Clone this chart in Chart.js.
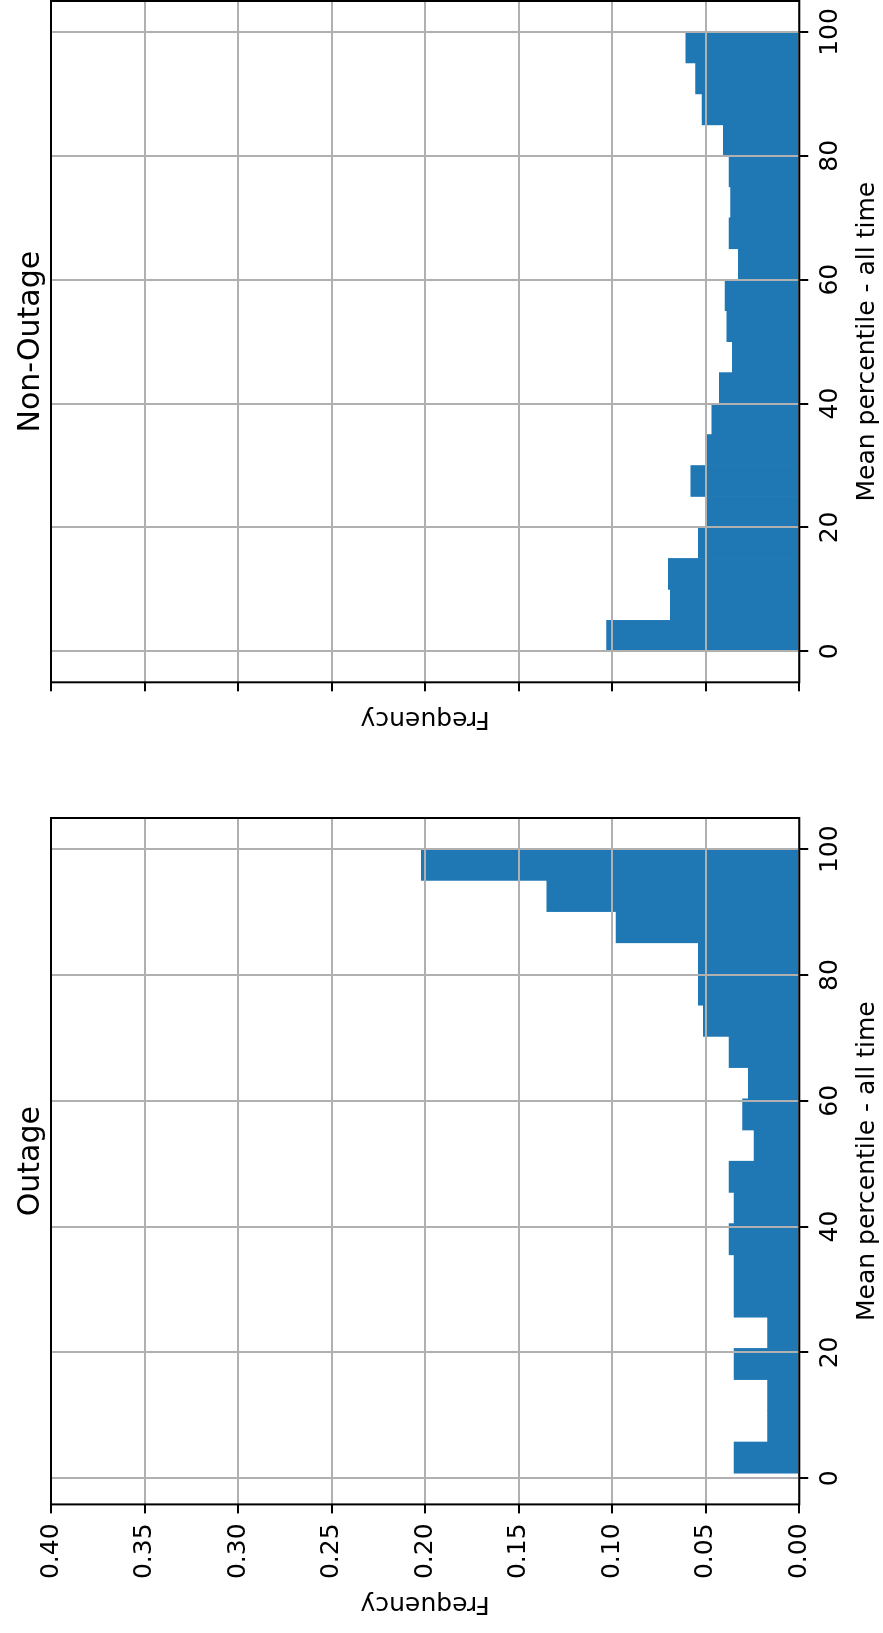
<!DOCTYPE html>
<html>
<head>
<meta charset="utf-8">
<script src="https://cdn.jsdelivr.net/npm/chart.js@4.4.1/dist/chart.umd.min.js"></script>
<style>
  html, body { margin: 0; padding: 0; background: #fff; overflow: hidden; }
  /* figure is laid out landscape, then turned a quarter turn counter-clockwise */
  #figure {
    position: absolute; left: 0; top: 0;
    width: 1633px; height: 883px;
    transform-origin: 0 0;
    transform: translateY(1633px) rotate(-90deg);
    background: #fff;
  }
  #figure canvas { position: absolute; top: 0; }
</style>
</head>
<body>
<div id="figure">
  <canvas id="outage" width="870" height="883" style="left:0"></canvas>
  <canvas id="nonOutage" width="763" height="883" style="left:870px"></canvas>
</div>
<script>
// histogram bin centres (mean percentile) and relative frequencies
const outageBins = [3.28, 8.24, 13.2, 18.16, 23.12, 28.08, 33.04, 38.0, 42.96, 47.92,
                    52.88, 57.84, 62.8, 67.76, 72.72, 77.68, 82.64, 87.6, 92.56, 97.52];
const outageFreq = [0.0348, 0.0169, 0.0169, 0.0348, 0.0169, 0.0348, 0.0348, 0.0376, 0.0349, 0.0376,
                    0.0242, 0.0303, 0.0273, 0.0376, 0.0513, 0.054, 0.054, 0.098, 0.135, 0.202];

const nonOutageBins = [2.5, 7.5, 12.5, 17.5, 22.5, 27.5, 32.5, 37.5, 42.5, 47.5,
                       52.5, 57.5, 62.5, 67.5, 72.5, 77.5, 82.5, 87.5, 92.5, 97.5];
const nonOutageFreq = [0.103, 0.069, 0.070, 0.054, 0.0495, 0.058, 0.0495, 0.0468, 0.0428, 0.0358,
                       0.0388, 0.0397, 0.0326, 0.0376, 0.0367, 0.0376, 0.0406, 0.052, 0.0554, 0.0606];

const percentileTicks = [0, 20, 40, 60, 80, 100];
const frequencyTicks = [0, 0.05, 0.10, 0.15, 0.20, 0.25, 0.30, 0.35, 0.40];

Chart.defaults.font.family = "'DejaVu Sans', sans-serif";
Chart.defaults.color = '#000';

// black box round the plot area, like matplotlib spines
const framePlugin = {
  id: 'frame',
  afterDraw(chart) {
    const {ctx, chartArea: {left, top, right, bottom}} = chart;
    ctx.save();
    ctx.strokeStyle = '#000';
    ctx.lineWidth = 2;
    ctx.strokeRect(left, top, right - left, bottom - top);
    ctx.restore();
  }
};

const gridStyle = {
  color: '#b0b0b0',
  lineWidth: 2,
  tickColor: '#000',
  tickLength: 9,
  tickWidth: 2,
  offset: false,   // bar charts shift grid lines between ticks by default
  z: 1
};

function makeHist(id, title, bins, freq, cfg) {
  const ctx = document.getElementById(id).getContext('2d');
  return new Chart(ctx, {
    type: 'bar',
    plugins: [framePlugin],
    data: {
      datasets: [{
        data: bins.map((b, i) => ({x: b, y: freq[i]})),
        backgroundColor: '#1f77b4',
        borderWidth: 0,
        barPercentage: 1,
        categoryPercentage: 1
      }]
    },
    options: {
      responsive: false,
      animation: false,
      layout: {padding: {left: 0, top: 0, right: cfg.padRight, bottom: 0}},
      plugins: {
        legend: {display: false},
        tooltip: {enabled: false},
        title: {
          display: true,
          text: title,
          fullSize: false,
          font: {size: 30, weight: 'normal'},
          padding: {top: 13, bottom: 2}
        }
      },
      scales: {
        x: {
          type: 'linear',
          offset: false,
          min: cfg.xMin,
          max: cfg.xMax,
          afterBuildTicks: s => { s.ticks = percentileTicks.map(v => ({value: v})); },
          afterFit: s => { s.height = 83.7; },
          ticks: {font: {size: 25}, padding: 7, maxRotation: 0, autoSkip: false,
                  callback: v => String(v)},
          grid: gridStyle,
          border: {display: false},
          title: {display: true, text: 'Mean percentile - all time',
                  font: {size: 25}, padding: {top: 0, bottom: 1}}
        },
        y: {
          min: 0,
          max: 0.4,
          afterBuildTicks: s => { s.ticks = frequencyTicks.map(v => ({value: v})); },
          afterFit: s => { s.width = cfg.yWidth; },
          ticks: {display: cfg.yLabels, font: {size: 25}, padding: 10,
                  callback: v => v.toFixed(2)},
          grid: gridStyle,
          border: {display: false},
          title: {display: true, text: 'Frequency',
                  font: {size: 25}, padding: {top: cfg.yTitlePad, bottom: 0}}
        }
      }
    }
  });
}

makeHist('outage', 'Outage', outageBins, outageFreq,
  {xMin: -4.16, xMax: 104.96, yWidth: 128.6, yLabels: true, yTitlePad: 14, padRight: 55});
makeHist('nonOutage', 'Non-Outage', nonOutageBins, nonOutageFreq,
  {xMin: -5, xMax: 105, yWidth: 80.7, yLabels: false, yTitlePad: 29.7, padRight: 1});
</script>
</body>
</html>
